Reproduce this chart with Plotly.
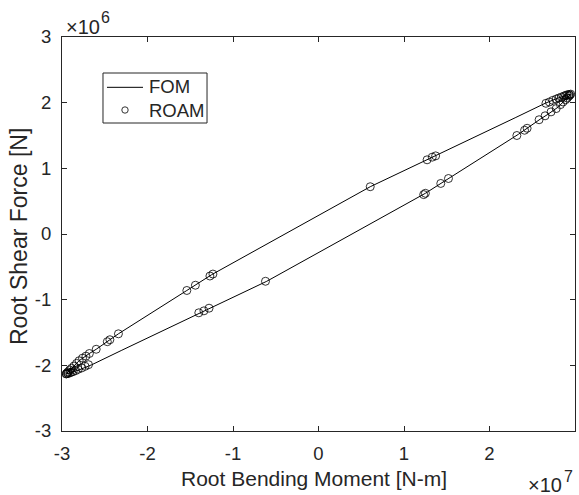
import plotly.graph_objects as go

# Root loads over one load cycle (moment in 1e7 N-m, shear in 1e6 N)
# Full-order model: upper branch (left tip -> right tip)
fom_up_moment = [-2.95, -2.90, -2.80, -2.68, -2.60, -2.34, -1.774, -1.54, -1.25,
                 0.0, 0.605, 1.30, 1.774, 2.30, 2.65, 2.80, 2.90, 2.95]
fom_up_shear = [-2.13, -2.06, -1.93, -1.82, -1.755, -1.52, -1.06, -0.86, -0.62,
                0.29, 0.72, 1.15, 1.44, 1.77, 1.99, 2.07, 2.11, 2.13]
# Full-order model: lower branch (right tip -> left tip)
fom_lo_moment = [2.95, 2.90, 2.80, 2.68, 2.60, 2.34, 1.774, 1.54, 1.25,
                 0.0, -0.605, -1.30, -1.774, -2.30, -2.65, -2.80, -2.90, -2.95]
fom_lo_shear = [2.13, 2.06, 1.93, 1.82, 1.755, 1.52, 1.06, 0.86, 0.62,
                -0.29, -0.72, -1.15, -1.44, -1.77, -1.99, -2.07, -2.11, -2.13]

# Reduced-order aeroelastic model samples, upper branch
roam_up_moment = [-2.95, -2.94, -2.93, -2.91, -2.89, -2.86, -2.83, -2.80, -2.76, -2.72,
                  -2.68, -2.60, -2.47, -2.44, -2.34, -1.54, -1.44, -1.27, -1.235,
                  0.605, 1.27, 1.33, 1.37, 2.66, 2.70, 2.74, 2.78, 2.81, 2.84, 2.87,
                  2.89, 2.91, 2.93, 2.95]
roam_up_shear = [-2.13, -2.115, -2.10, -2.07, -2.045, -2.01, -1.97, -1.93, -1.89, -1.86,
                 -1.82, -1.755, -1.64, -1.61, -1.52, -0.86, -0.78, -0.64, -0.61,
                 0.72, 1.13, 1.17, 1.19, 1.99, 2.01, 2.035, 2.055, 2.07, 2.085, 2.10,
                 2.11, 2.12, 2.125, 2.13]
# Reduced-order aeroelastic model samples, lower branch
roam_lo_moment = [2.94, 2.93, 2.91, 2.89, 2.86, 2.83, 2.78, 2.72, 2.65, 2.58,
                  2.44, 2.41, 2.32, 1.52, 1.43, 1.25, 1.23, -0.62, -1.28, -1.34,
                  -1.40, -2.69, -2.73, -2.77, -2.81, -2.84, -2.87, -2.89, -2.91,
                  -2.93, -2.95]
roam_lo_shear = [2.115, 2.10, 2.07, 2.045, 2.01, 1.97, 1.91, 1.86, 1.80, 1.74,
                 1.61, 1.58, 1.50, 0.845, 0.77, 0.62, 0.60, -0.72, -1.13, -1.17,
                 -1.20, -1.99, -2.015, -2.04, -2.06, -2.08, -2.095, -2.105, -2.115,
                 -2.125, -2.13]

tick_vals = [-3, -2, -1, 0, 1, 2, 3]
tick_text = ["-3", "-2", "-1", "0", "1", "2", "3"]
series_names = ["FOM", "ROAM"]

FONT = "Liberation Sans, Arial, Helvetica, sans-serif"
AX = "#262626"

fig = go.Figure()
fig.add_trace(go.Scatter(
    x=fom_up_moment + fom_lo_moment, y=fom_up_shear + fom_lo_shear,
    mode="lines", name=series_names[0], line=dict(color="black", width=1)))
fig.add_trace(go.Scatter(
    x=roam_up_moment + roam_lo_moment, y=roam_up_shear + roam_lo_shear,
    mode="markers", name=series_names[1],
    marker=dict(symbol="circle-open", size=8, color="black", line=dict(width=0.8))))

axis_common = dict(
    showline=True, linecolor=AX, linewidth=1, mirror="ticks",
    ticks="inside", ticklen=5, tickcolor=AX, tickwidth=1,
    showgrid=False, zeroline=False,
    tickvals=tick_vals, ticktext=tick_text,
    tickfont=dict(family=FONT, size=18.5, color=AX),
)
fig.update_xaxes(range=[-3, 3], ticklabelstandoff=6, **axis_common)
fig.update_yaxes(range=[-3, 3], ticklabelstandoff=6, **axis_common)

# Compact boxed legend in the upper-left corner of the axes
legend_shapes = [
    dict(type="rect", xref="paper", yref="paper", x0=0.0799, x1=0.2827, y0=0.7817, y1=0.9086,
         line=dict(color=AX, width=1), fillcolor="white", layer="above"),
    dict(type="line", xref="paper", yref="paper", x0=0.0877, x1=0.1579, y0=0.8723, y1=0.8723,
         line=dict(color="black", width=1), layer="above"),
    dict(type="circle", xref="paper", yref="paper", xsizemode="pixel", ysizemode="pixel",
         xanchor=0.1228, yanchor=0.8147, x0=-3.2, x1=3.2, y0=-3.2, y1=3.2,
         line=dict(color="black", width=0.8), layer="above"),
]

legend_text = [
    dict(text=series_names[0], x=0.1657, y=0.8731, xref="paper", yref="paper",
         xanchor="left", yanchor="middle", showarrow=False,
         font=dict(family=FONT, size=18.5, color=AX)),
    dict(text=series_names[1], x=0.1657, y=0.8147, xref="paper", yref="paper",
         xanchor="left", yanchor="middle", showarrow=False,
         font=dict(family=FONT, size=18.5, color=AX)),
]

axis_text = [
    dict(text="Root Bending Moment [N-m]", x=0.4906, y=-0.1218, xref="paper", yref="paper",
         xanchor="center", yanchor="middle", showarrow=False,
         font=dict(family=FONT, size=21, color=AX)),
    dict(text="Root Shear Force [N]", x=-0.0828, y=0.4937, xref="paper", yref="paper",
         xanchor="center", yanchor="middle", textangle=-90, showarrow=False,
         font=dict(family=FONT, size=23, color=AX)),
    # axis multipliers
    dict(text="×10", x=0.0040, y=1.0254, xref="paper", yref="paper",
         xanchor="left", yanchor="middle", showarrow=False,
         font=dict(family=FONT, size=20, color=AX)),
    dict(text="6", x=0.0712, y=1.0495, xref="paper", yref="paper",
         xanchor="left", yanchor="middle", showarrow=False,
         font=dict(family=FONT, size=16, color=AX)),
    dict(text="×10", x=0.9785, y=-0.1360, xref="paper", yref="paper",
         xanchor="right", yanchor="middle", showarrow=False,
         font=dict(family=FONT, size=20, color=AX)),
    dict(text="7", x=0.9746, y=-0.1150, xref="paper", yref="paper",
         xanchor="left", yanchor="middle", showarrow=False,
         font=dict(family=FONT, size=16, color=AX)),
]

fig.update_layout(
    width=579, height=495,
    margin=dict(l=62, r=4, t=37, b=64, autoexpand=False),
    paper_bgcolor="white", plot_bgcolor="white",
    showlegend=False,
    shapes=legend_shapes,
    annotations=legend_text + axis_text,
)

fig.write_html("out.html")
